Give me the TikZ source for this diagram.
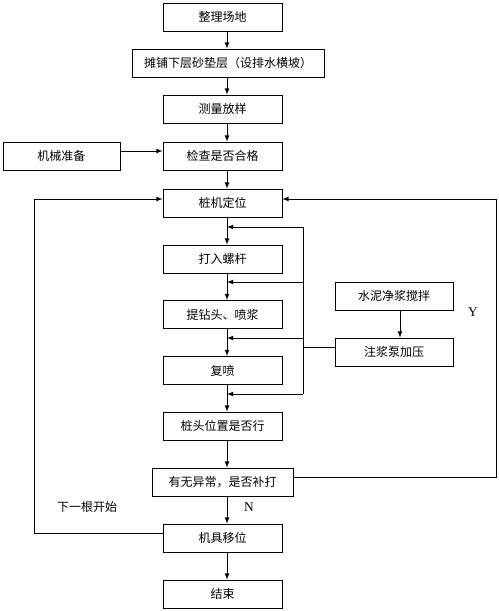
\documentclass[tikz,border=0pt]{standalone}
\usepackage{fontspec}
\setmainfont{Liberation Serif}
\newfontfamily\cjk{Noto Sans CJK SC}
\usetikzlibrary{arrows}
\tikzset{every path/.style={black,line width=0.6pt}, box/.style={draw, inner sep=0pt, minimum height=21pt, font=\cjk\fontsize{9}{11}\selectfont}, note/.style={font=\cjk\fontsize{9}{11}\selectfont}}

\begin{document}
\begin{tikzpicture}[x=0.75pt,y=-0.75pt,>=latex]
  \useasboundingbox (0,0) rectangle (499,611);
  \coordinate (sp) at (227,0);
  \coordinate (rb) at (303,0);
  \coordinate (rr) at (496,0);
  \coordinate (ll) at (34,0);
  \node[box,minimum width=89.25pt] (a) at (222.5,17)  {整理场地};
  \node[box,minimum width=144pt]   (b) at (228,63)    {摊铺下层砂垫层（设排水横坡）};
  \node[box,minimum width=89.25pt] (c) at (222.5,109) {测量放样};
  \node[box,minimum width=89.25pt] (d) at (222.5,156) {检查是否合格};
  \node[box,minimum width=87.75pt] (e) at (61.5,156)  {机械准备};
  \node[box,minimum width=89.25pt] (f) at (222.5,203) {桩机定位};
  \node[box,minimum width=89.25pt] (g) at (222.5,259) {打入螺杆};
  \node[box,minimum width=89.25pt] (h) at (222.5,314.5) {提钻头、喷浆};
  \node[box,minimum width=89.25pt] (i) at (222.5,370.5) {复喷};
  \node[box,minimum width=89.25pt] (j) at (222.5,426) {桩头位置是否行};
  \node[box,minimum width=105.75pt] (k) at (222.5,482) {有无异常，是否补打};
  \node[box,minimum width=89.25pt] (l) at (222.5,538) {机具移位};
  \node[box,minimum width=89.25pt] (m) at (222.5,594) {结束};
  \node[box,minimum width=88.5pt]  (n) at (394,296)   {水泥净浆搅拌};
  \node[box,minimum width=88.5pt]  (o) at (394,352)   {注浆泵加压};
  \foreach \u/\v in {a/b,b/c,c/d,d/f,f/g,g/h,h/i,i/j,j/k,k/l,l/m}
    \draw[->] (\u.south -| sp) -- (\v.north -| sp);
  \draw[->] (e.east |- 0,151) -- (d.west |- 0,151);
  \draw[->] (n.south -| 400,0) -- (o.north -| 400,0);
  \draw (rb |- 0,227) -- (rb |- 0,394);
  \foreach \y in {227,282,338,394}
    \draw[->] (rb |- 0,\y) -- (sp |- 0,\y);
  \draw (o.west |- 0,347) -- (rb |- 0,347);
  \draw[->] (k.east |- 0,477) -- (rr |- 0,477) -- (rr |- 0,199) -- (f.east |- 0,199);
  \draw[->] (l.west |- 0,533) -- (ll |- 0,533) -- (ll |- 0,199) -- (f.west |- 0,199);
  \node[font=\fontsize{10}{12}\selectfont] (yes) at (473,312) {Y};
  \node[font=\fontsize{10}{12}\selectfont] (no) at (249,507) {N};
  \node[note] (next) at (87,507) {下一根开始};
\end{tikzpicture}
\end{document}
